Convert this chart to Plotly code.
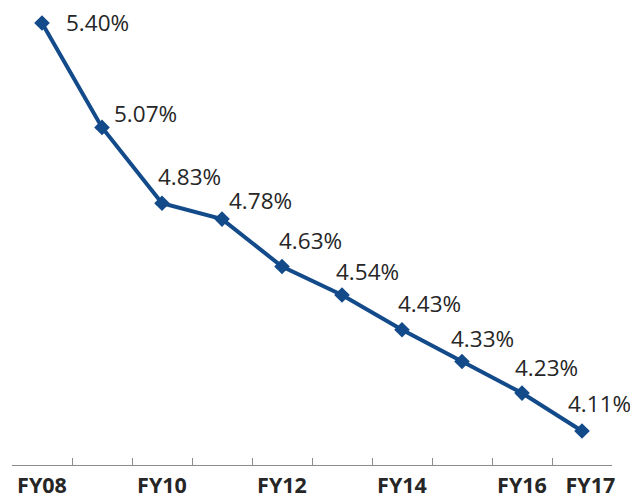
import plotly.graph_objects as go

categories = ["FY08", "FY09", "FY10", "FY11", "FY12", "FY13", "FY14", "FY15", "FY16", "FY17"]
values = [5.40, 5.07, 4.83, 4.78, 4.63, 4.54, 4.43, 4.33, 4.23, 4.11]
tick_labels = ["FY08", "", "FY10", "", "FY12", "", "FY14", "", "FY16", "FY17"]

# label placement (styling): left-edge offset and vertical offset in px
label_dx = [23, 11, -5, 6, -4, -7, -5, -12, -8, -15]
label_dy = [1, 14, 27, 19, 26, 24, 26, 23, 26, 28]

line_color = "#124a8a"

# small visual nudge for the last tick label (padding with no-break spaces)
shown_ticks = [("\u00a0\u00a0\u00a0" + t) if t == "FY17" else t for t in tick_labels]

fig = go.Figure()
fig.add_trace(go.Scatter(
    x=categories, y=values, mode="lines+markers",
    line=dict(color=line_color, width=4),
    marker=dict(symbol="diamond", size=12, color=line_color),
    cliponaxis=False, hoverinfo="skip",
))

for c, v, dx, dy in zip(categories, values, label_dx, label_dy):
    fig.add_annotation(
        x=c, y=v, xref="x", yref="y", text=f"{v:.2f}%", showarrow=False,
        xanchor="left", yanchor="middle", xshift=dx, yshift=dy,
        font=dict(family="Open Sans", size=22.5, color="#262626"),
        borderpad=0,
    )

W, H = 630, 501
fig.update_layout(
    width=W, height=H,
    margin=dict(l=0, r=0, t=0, b=0, autoexpand=False),
    paper_bgcolor="white", plot_bgcolor="white",
    showlegend=False,
    xaxis=dict(
        type="category", domain=[12 / W, 612 / W], range=[-0.5, 9.5],
        anchor="free", position=(H - 465) / H, automargin=False,
        showline=True, linecolor="#8c8c8c", linewidth=1.3,
        ticks="inside", ticklen=7, tickcolor="#8c8c8c", tickwidth=1.3,
        tickson="boundaries", tickmode="array",
        tickvals=categories, ticktext=shown_ticks, tickangle=0,
        ticklabelstandoff=1,
        tickfont=dict(family="Open Sans", size=21.5, color="#262626", weight="bold"),
        showgrid=False, zeroline=False, fixedrange=True,
    ),
    yaxis=dict(
        range=[3.8888, 5.4727], domain=[0, 1], automargin=False,
        visible=False, showgrid=False, zeroline=False, fixedrange=True,
    ),
)

fig.write_html(
    "out.html",
    config={"displayModeBar": False},
    post_script="document.body.style.margin='0';document.body.style.overflow='hidden';",
)
